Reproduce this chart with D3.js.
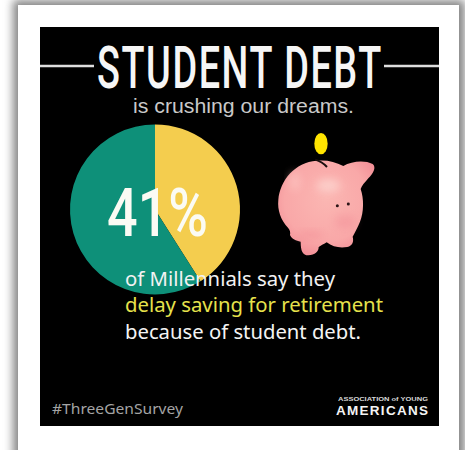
<!DOCTYPE html>
<html>
<head>
<meta charset="utf-8">
<style>
  html, body { margin: 0; padding: 0; background: #fff; overflow: hidden; }
  svg { display: block; }
</style>
<script src="https://cdn.jsdelivr.net/npm/d3@7/dist/d3.min.js"></script>
</head>
<body>
<svg id="chart" width="465" height="450"></svg>
<script>
// Share of Millennials delaying retirement saving because of student debt
const sliceLabels = ["Delay saving", "Others"];
const sliceValues = [41, 59];
const sliceColors = ["#f4cd4e", "#0e9079"];
const bodyLines = ["of Millennials say they", "delay saving for retirement", "because of student debt."];
const bodyColors = ["#f2f2f2", "#e6e24c", "#f4f4f4"];
const bodyBaselines = [286, 312, 339];
const bodyWidths = [210, 258, 236];

const svg = d3.select("#chart");
const defs = svg.append("defs");

// Soft edge around the white card
defs.append("filter").attr("id", "cardShadow")
  .attr("x", "-10%").attr("y", "-10%").attr("width", "120%").attr("height", "120%")
  .append("feGaussianBlur").attr("stdDeviation", 5);
defs.append("filter").attr("id", "soft")
  .attr("x", "-10%").attr("y", "-10%").attr("width", "120%").attr("height", "120%")
  .append("feGaussianBlur").attr("stdDeviation", 1.5);
defs.append("filter").attr("id", "pigBlur")
  .attr("x", "-60%").attr("y", "-60%").attr("width", "220%").attr("height", "220%")
  .append("feGaussianBlur").attr("stdDeviation", 13);

const pigFill = defs.append("radialGradient").attr("id", "pigFill")
  .attr("cx", "0.5").attr("cy", "0.42").attr("r", "0.62");
pigFill.append("stop").attr("offset", "0").attr("stop-color", "#fbb6b2");
pigFill.append("stop").attr("offset", "0.7").attr("stop-color", "#f9a8a8");
pigFill.append("stop").attr("offset", "1").attr("stop-color", "#f28e96");

svg.append("rect").attr("x", 13).attr("y", 0).attr("width", 452).attr("height", 470)
  .attr("fill", "#858585").attr("filter", "url(#cardShadow)");
svg.append("rect").attr("x", 18).attr("y", 5).attr("width", 441).attr("height", 445).attr("fill", "#fff");
svg.append("rect").attr("x", 40).attr("y", 27).attr("width", 399).attr("height", 399).attr("fill", "#000");

// Title with rules running out to the panel edges
const ruleColor = "#dedede";
[[40, 94], [384, 439]].forEach(([x1, x2]) => {
  svg.append("line").attr("x1", x1).attr("x2", x2).attr("y1", 66).attr("y2", 66)
    .attr("stroke", ruleColor).attr("stroke-width", 2.5);
});

function label(txt, x, y, size, width, fill, family, weight) {
  return svg.append("text").text(txt)
    .attr("x", x).attr("y", y)
    .attr("font-size", size)
    .attr("font-family", family)
    .attr("font-weight", weight || 400)
    .attr("fill", fill)
    .attr("textLength", width)
    .attr("lengthAdjust", "spacingAndGlyphs");
}

// Squeezes a display line horizontally so it fills the given width
function squeezed(txt, x, y, size, width, fill, spacing, weight) {
  const node = svg.append("text").text(txt)
    .attr("font-size", size)
    .attr("font-family", "Roboto, sans-serif")
    .attr("font-weight", weight)
    .attr("letter-spacing", spacing)
    .attr("fill", fill);
  const natural = node.node().getComputedTextLength();
  node.attr("transform", `translate(${x},${y}) scale(${width / natural},1)`);
  return node;
}

squeezed("STUDENT DEBT", 97, 88, 60, 286, "#f6f6f6", 2.5, 500);
label("is crushing our dreams.", 133, 113, 19.5, 221, "#c9c9c9", "'Liberation Sans', sans-serif");

// Pie, starting at twelve o'clock and running clockwise
const pie = d3.pie().sort(null).value(d => d)
  .startAngle(0).endAngle(2 * Math.PI);
const arc = d3.arc().innerRadius(0).outerRadius(85);
const pieGroup = svg.append("g").attr("transform", "translate(155,209.5)");
pieGroup.selectAll("path")
  .data(pie(sliceValues))
  .join("path")
  .attr("d", arc)
  .attr("fill", (d, i) => sliceColors[i])
  .append("title").text((d, i) => `${sliceLabels[i]}: ${d.value}%`);

squeezed(`${sliceValues[0]}%`, 107, 236, 66, 101, "#fbfbf4", 0, 500);

// Body copy
bodyLines.forEach((line, i) => {
  label(line, 125, bodyBaselines[i], 19, bodyWidths[i], bodyColors[i], "'Noto Sans', sans-serif");
});

// Coin dropping into the piggy bank
const pig = svg.append("g").attr("transform", "translate(260,125) scale(0.3333)");
pig.append("ellipse").attr("cx", 183).attr("cy", 56).attr("rx", 20).attr("ry", 32).attr("fill", "#ffe400");

pig.append("path")
  .attr("d", "M55,225 C60,165 105,112 170,107 C200,104 225,110 250,123 C275,108 315,105 338,117 C350,127 340,145 325,160 C315,172 305,182 302,192 C312,220 312,262 300,290 C292,310 285,322 278,335 C282,350 278,362 262,366 C240,370 218,366 200,352 C190,358 182,362 176,366 C176,380 165,390 145,391 C128,391 122,378 122,350 C108,346 96,344 90,330 C92,322 90,315 84,308 C62,285 52,255 55,225 Z")
  .attr("fill", "url(#pigFill)")
  .attr("filter", "url(#soft)");

// Highlights and shading on the body
pig.append("ellipse").attr("cx", 205).attr("cy", 182).attr("rx", 36).attr("ry", 20).attr("fill", "#fdd4cf").attr("filter", "url(#pigBlur)").attr("opacity", 0.85);
pig.append("ellipse").attr("cx", 105).attr("cy", 170).attr("rx", 14).attr("ry", 28).attr("fill", "#fdc9c5").attr("filter", "url(#pigBlur)").attr("opacity", 0.7);
pig.append("ellipse").attr("cx", 255).attr("cy", 290).attr("rx", 32).attr("ry", 20).attr("fill", "#f18b95").attr("filter", "url(#pigBlur)").attr("opacity", 0.45);
pig.append("ellipse").attr("cx", 150).attr("cy", 330).attr("rx", 40).attr("ry", 10).attr("fill", "#ef828d").attr("filter", "url(#pigBlur)").attr("opacity", 0.45);

// Coin slot and eyes
pig.append("path").attr("d", "M166,104 C180,108 192,116 201,126")
  .attr("fill", "none").attr("stroke", "#1a0d0d").attr("stroke-width", 6);
[[232, 242], [265, 237]].forEach(([cx, cy]) => {
  pig.append("circle").attr("cx", cx).attr("cy", cy).attr("r", 4.5).attr("fill", "#2a1416");
});

// Footer
label("#ThreeGenSurvey", 52, 414, 14.5, 131, "#a4a4a4", "'Noto Sans', sans-serif");
label("ASSOCIATION of YOUNG", 338, 401, 5, 90, "#d8d8d8", "'Liberation Sans', sans-serif", 700);
label("AMERICANS", 336, 415, 13.5, 92, "#f4f4f4", "'Liberation Sans', sans-serif", 700)
  .attr("lengthAdjust", "spacing");
</script>
</body>
</html>
